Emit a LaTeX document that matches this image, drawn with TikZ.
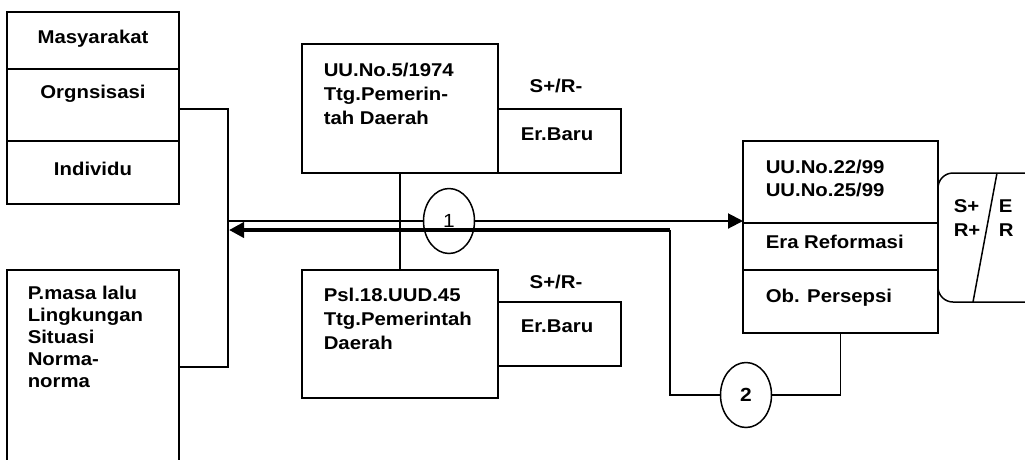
\documentclass[tikz,border=0pt]{standalone}
\usepackage{fontspec}
\setmainfont{Liberation Sans}[FakeStretch=1.1]
\usetikzlibrary{arrows.meta,shapes.geometric}

\tikzset{
  box/.style={draw, anchor=north west, inner sep=0pt, outer sep=0pt},
  txt/.style={font=\fontsize{18.5}{24}\selectfont\bfseries, align=left, inner sep=0pt, anchor=north west},
  lbl/.style={font=\fontsize{18.5}{24}\selectfont\bfseries, inner sep=0pt, anchor=base},
  bubble/.style={draw, ellipse, minimum width=51pt, minimum height=65pt, inner sep=0pt, outer sep=0pt, font=\fontsize{19}{24}\selectfont},
}

\begin{document}
\begin{tikzpicture}[x=1pt, y=-1pt, line width=1.5pt, >={Triangle[length=15pt,width=15pt]}]
\useasboundingbox (0,0) rectangle (1025,459);
% left column
\node[box, minimum width=172pt, minimum height=57pt] (masy) at (7,12) {};
\node[box, minimum width=172pt, minimum height=72pt] (orgn) at (7,69) {};
\node[box, minimum width=172pt, minimum height=63pt] (indiv) at (7,141) {};
\node[lbl] (tmasy) at (93,43) {Masyarakat};
\node[lbl] (torgn) at (93,98) {Orgnsisasi};
\node[lbl] (tindiv) at (93,175) {Individu};
\node[box, draw=none, minimum width=172pt, minimum height=190pt] (pmasa) at (7,270) {};
\draw (pmasa.south west) -- (pmasa.north west) -- (pmasa.north east) -- (pmasa.south east);
\node[txt, font=\fontsize{18.5}{22}\selectfont\bfseries] (tpmasa) at (27,285) {P.masa lalu\\Lingkungan\\Situasi\\Norma-\\norma};

% middle boxes
\node[box, minimum width=196pt, minimum height=129pt] (law1) at (302,44) {};
\node[box, minimum width=123pt, minimum height=64pt] (er1) at (498,109) {};
\node[txt] (tlaw1) at (323,62) {UU.No.5/1974\\Ttg.Pemerin-\\tah Daerah};
\node[lbl] (tsr1) at (556,92) {S+/R-};
\node[lbl] (ter1) at (557,140) {Er.Baru};
\node[box, minimum width=196pt, minimum height=128pt] (law2) at (302,270) {};
\node[box, minimum width=123pt, minimum height=64pt] (er2) at (498,302) {};
\node[txt] (tlaw2) at (323,287) {Psl.18.UUD.45\\Ttg.Pemerintah\\Daerah};
\node[lbl] (tsr2) at (556,288) {S+/R-};
\node[lbl] (ter2) at (557,332) {Er.Baru};

% right box
\node[box, minimum width=195pt, minimum height=82pt] (uu) at (743,141) {};
\node[box, minimum width=195pt, minimum height=47pt] (era) at (743,223) {};
\node[box, minimum width=195pt, minimum height=63pt] (ob) at (743,270) {};
\node[txt, font=\fontsize{18.5}{23}\selectfont\bfseries] (tuu) at (765,159) {UU.No.22/99\\UU.No.25/99};
\node[lbl, anchor=base west] (tera) at (765,248) {Era Reformasi};
\node[lbl, anchor=base west] (tob) at (765,302) {Ob. Persepsi};
\draw[rounded corners=15pt] (1030,173) -- (938,173) -- (938,302) -- (1030,302);
\draw (997,173) -- (973,302);
\node[txt] (tsr) at (953,199) {S+\\R+};
\node[txt] (ter) at (998,199) {E\\R};

% connectors
\coordinate (jtop) at (228,109);
\coordinate (jbot) at (228,367);
\draw (orgn.east |- jtop) -- (jtop) -- (jbot) -- (pmasa.east |- jbot);
\node[bubble] (c1) at (449,221) {1};
\coordinate (jarr) at (jtop |- c1);
\draw[line width=2pt] (jarr) -- (c1);
\draw[line width=2pt, ->] (c1) -- (c1 -| uu.west);
\draw (law1.south) -- (law2.north);
\coordinate (kn) at (670,230);
\coordinate (jlow) at (229,230);
\draw[line width=4pt, ->] (kn) -- (jlow);
\node[bubble, font=\fontsize{19}{24}\selectfont\bfseries] (c2) at (746,395) {2};
\coordinate (kb) at (kn |- c2);
\draw (kn) -- (kb) -- (c2);
\draw (c2) -- (c2 -| ob.south) -- (ob.south);
\end{tikzpicture}
\end{document}
